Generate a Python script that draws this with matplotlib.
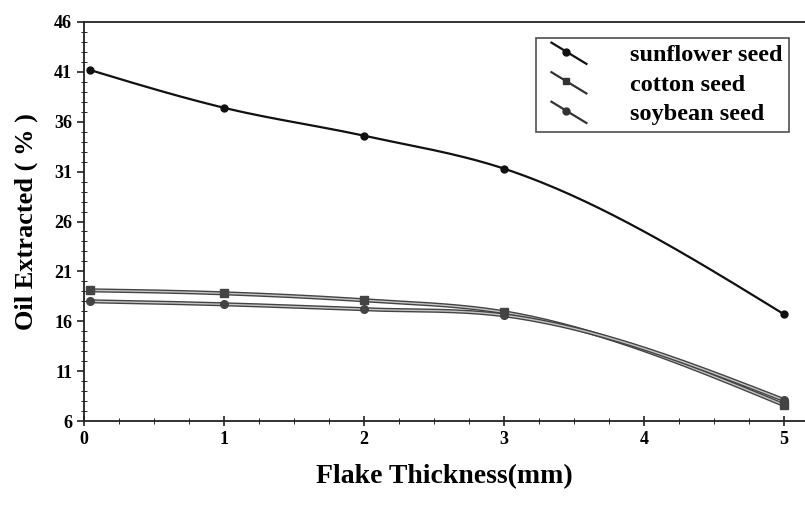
import numpy as np
import matplotlib
matplotlib.use("Agg")
import matplotlib.pyplot as plt
from matplotlib.lines import Line2D
from matplotlib.legend_handler import HandlerLine2D
from matplotlib.ticker import MultipleLocator

thickness = [0.04, 1, 2, 3, 5]
sunflower = [41.2, 37.4, 34.6, 31.3, 16.7]
cotton = [19.1, 18.8, 18.1, 16.9, 7.6]
soybean = [18.0, 17.7, 17.2, 16.6, 8.1]
labels = ["sunflower seed", "cotton seed", "soybean seed"]
yticks = [6, 11, 16, 21, 26, 31, 36, 41, 46]
xticks = [0, 1, 2, 3, 4, 5]

plt.rcParams['font.family'] = ['Liberation Serif', 'DejaVu Serif']
plt.rcParams['font.weight'] = 'bold'


def smooth_curve(x, y, n=60):
    """Cubic Hermite curve through every point (smooth connector)."""
    x = np.asarray(x, float); y = np.asarray(y, float)
    h = np.diff(x)
    d = np.diff(y) / h
    m = np.empty_like(x)
    m[1:-1] = (h[1:] * d[:-1] + h[:-1] * d[1:]) / (h[:-1] + h[1:])
    e0 = ((2 * h[0] + h[1]) * d[0] - h[0] * d[1]) / (h[0] + h[1])
    e1 = ((2 * h[-1] + h[-2]) * d[-1] - h[-1] * d[-2]) / (h[-1] + h[-2])
    m[0] = 0.5 * (d[0] + e0)
    m[-1] = 0.5 * (d[-1] + e1)
    xs_all, ys_all = [], []
    for i in range(len(x) - 1):
        t = np.linspace(0, 1, n)
        hh = h[i]
        h00 = 2 * t**3 - 3 * t**2 + 1
        h10 = t**3 - 2 * t**2 + t
        h01 = -2 * t**3 + 3 * t**2
        h11 = t**3 - t**2
        xs_all.append(x[i] + t * hh)
        ys_all.append(h00 * y[i] + h10 * hh * m[i] + h01 * y[i + 1] + h11 * hh * m[i + 1])
    return np.concatenate(xs_all), np.concatenate(ys_all)


class DiagHandler(HandlerLine2D):
    def create_artists(self, legend, orig_handle, xdescent, ydescent, width, height, fontsize, trans):
        x0, x1 = -xdescent + 0.2 * width, -xdescent + width
        y0, y1 = -ydescent + 1.1 * height, -ydescent - 0.15 * height
        ln = Line2D([x0, x1], [y0, y1], color=orig_handle.get_color(), lw=1.6)
        t = 0.42
        mk = Line2D([x0 + t * (x1 - x0)], [y0 + t * (y1 - y0)],
                    marker=orig_handle.get_marker(), color=orig_handle.get_color(),
                    markersize=5, linestyle='none')
        ln.set_transform(trans); mk.set_transform(trans)
        return [ln, mk]


fig = plt.figure(figsize=(8.05, 5.05), dpi=100)
ax = fig.add_axes([84 / 805, 84 / 505, 1 - 84 / 805, (421 - 22) / 505])

xs, ys = smooth_curve(thickness, sunflower)
ax.plot(xs, ys, color='#111111', lw=1.6)
ax.plot(thickness, sunflower, 'o', color='#111111', ms=5)

for data, mk in [(cotton, 's'), (soybean, 'o')]:
    xs, ys = smooth_curve(thickness, data)
    ax.plot(xs, ys, color='#444444', lw=3.0, solid_capstyle='butt')
    ax.plot(xs, ys, color='#c4c4c4', lw=1.0)
    ax.plot(thickness, data, mk, color='#444444', ms=5.5)

h1 = Line2D([], [], color='#111111', marker='o')
h2 = Line2D([], [], color='#333333', marker='s')
h3 = Line2D([], [], color='#333333', marker='o')
leg = ax.legend([h1, h2, h3], labels, loc='upper right',
                bbox_to_anchor=((789 - 84) / 721, (421 - 38) / 399),
                handler_map={Line2D: DiagHandler()}, frameon=True, fancybox=False,
                edgecolor='#222222', prop={'size': 17.5, 'weight': 'bold'},
                handlelength=1.8, handletextpad=1.8, labelspacing=0.31, borderpad=0.26,
                borderaxespad=0)
leg.get_frame().set_linewidth(1.2)

ax.set_xlim(0, 5 * 721 / 700)
ax.set_ylim(6, 46)
ax.set_xticks(xticks)
ax.set_yticks(yticks)
ax.xaxis.set_minor_locator(MultipleLocator(0.25))
ax.yaxis.set_minor_locator(MultipleLocator(1))
ax.tick_params(axis='both', which='major', labelsize=13, width=1.2, color='#222222')
ax.tick_params(axis='y', which='major', direction='out', length=5)
ax.tick_params(axis='y', which='minor', direction='inout', length=4)
ax.tick_params(axis='x', which='major', direction='inout', length=7)
ax.tick_params(axis='x', which='minor', direction='inout', length=4)
for lab in ax.get_xticklabels() + ax.get_yticklabels():
    lab.set_fontweight('bold')
ax.spines['right'].set_visible(False)
for s in ['left', 'bottom', 'top']:
    ax.spines[s].set_linewidth(1.3)
    ax.spines[s].set_color('#222222')

ax.set_xlabel('Flake Thickness(mm)', fontsize=20, fontweight='bold', labelpad=12)
ax.set_ylabel('Oil Extracted ( % )', fontsize=19, fontweight='bold', labelpad=12)

fig.savefig('out.png', dpi=100)
